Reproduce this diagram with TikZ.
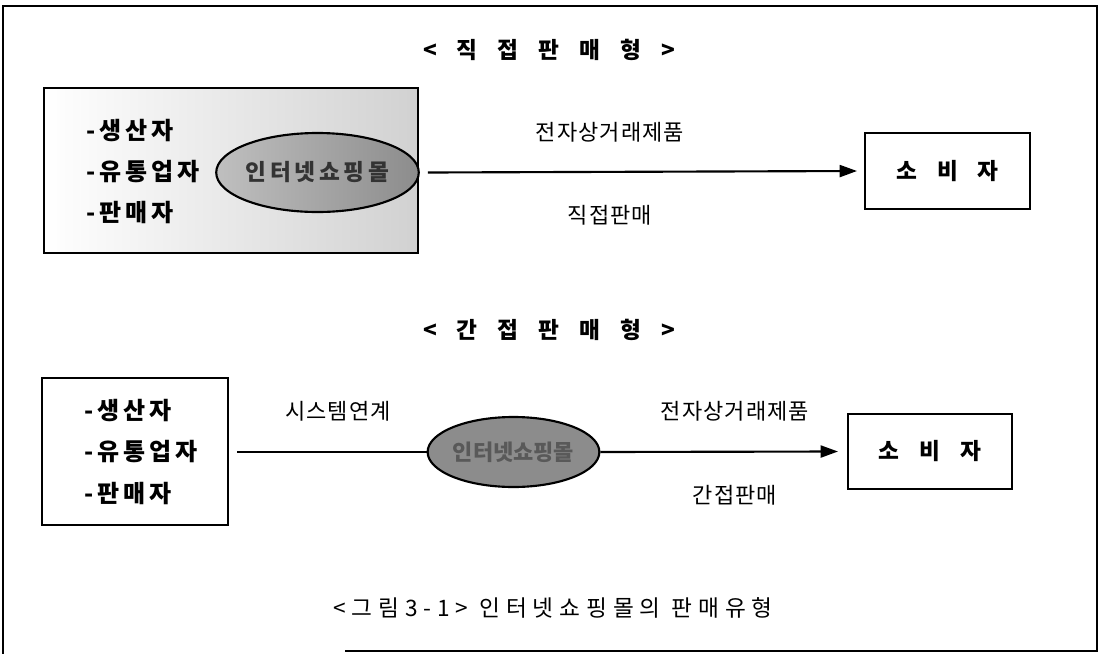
\documentclass[tikz,border=0pt]{standalone}
\usepackage{fontspec}
\newfontfamily\kr{Noto Sans CJK KR}
\newfontfamily\krls{Noto Sans CJK KR}[LetterSpace=16]
\newfontfamily\krcap{Noto Sans CJK KR}[LetterSpace=26]
\newfontfamily\krlab{Noto Sans CJK KR}[LetterSpace=5]
\usetikzlibrary{shapes.geometric,arrows.meta}
\newcommand{\gp}{\hspace{15pt}}
\begin{document}
\begin{tikzpicture}[x=0.75pt,y=-0.75pt,
  frame/.style={line width=1.2pt},
  boxline/.style={draw,line width=1.6pt},
  lbl/.style={font=\krlab\fontsize{16.5}{19}\selectfont,inner sep=0pt},
  blbl/.style={font=\krls\bfseries\fontsize{18}{20}\selectfont,inner sep=0pt},
  ttl/.style={font=\kr\bfseries\fontsize{17}{19}\selectfont,inner sep=0pt},
  conn/.style={line width=1.6pt},
  arr/.style={conn,-{Triangle[length=13pt,width=9pt]}}
]
\useasboundingbox (0,0) rectangle (1101,654);
% outer frame
\draw[frame] (345,651) -- (1097,651) -- (1097,6) -- (3,6) -- (3,654);

% ---------- direct sales ----------
\node[ttl] (t1) at (549,50) {<\gp 직\gp 접\gp 판\gp 매\gp 형\gp >};
\shade[left color=white,right color=black!18] (44,88) rectangle (418,253);
\node[boxline,minimum width=374*0.75pt,minimum height=165*0.75pt,inner sep=0pt] (b1) at (231,170.5) {};
\node[blbl,anchor=west] (p1) at (86,131) {-생산자};
\node[blbl,anchor=west] (d1) at (86,172) {-유통업자};
\node[blbl,anchor=west] (s1) at (86,213) {-판매자};
\node[ellipse,draw,line width=1.6pt,left color=black!25,right color=black!45,
      minimum width=199*0.75pt,minimum height=79*0.75pt,inner sep=0pt,
      font=\krls\bfseries\fontsize{17}{19}\selectfont,text=black!80] (e1) at (317.5,172.5) {인터넷쇼핑몰};
\node[boxline,minimum width=165*0.75pt,minimum height=76*0.75pt,inner sep=0pt,ttl] (c1) at (947.5,171) {소\gp 비\gp 자};
\draw[arr] (e1.east) ++(8,0) coordinate (a1) -- (c1.west -| 857,0) ;
\node[lbl] (l1) at (610,132) {전자상거래제품};
\node[lbl] (l2) at (610,215) {직접판매};

% ---------- indirect sales ----------
\node[ttl] (t2) at (549,330) {<\gp 간\gp 접\gp 판\gp 매\gp 형\gp >};
\node[boxline,minimum width=186*0.75pt,minimum height=147*0.75pt,inner sep=0pt] (b2) at (135,451.5) {};
\node[blbl,anchor=west] (p2) at (84,411) {-생산자};
\node[blbl,anchor=west] (d2) at (84,452) {-유통업자};
\node[blbl,anchor=west] (s2) at (84,494) {-판매자};
\node[ellipse,draw,line width=1.6pt,fill=black!45,
      minimum width=165*0.75pt,minimum height=70*0.75pt,inner sep=0pt,
      font=\kr\bfseries\fontsize{16.5}{18}\selectfont,text=black!65] (e2) at (513.5,452) {인터넷쇼핑몰};
\node[boxline,minimum width=164*0.75pt,minimum height=75*0.75pt,inner sep=0pt,ttl] (c2) at (930,451.5) {소\gp 비\gp 자};
\coordinate (s2a) at (237,452);
\draw[conn] (s2a) -- (e2.west);
\draw[arr] (e2.east) -- (c2.west -| 838,0);
\node[lbl] (l3) at (338,411) {시스템연계};
\node[lbl] (l4) at (735,411) {전자상거래제품};
\node[lbl] (l5) at (735,495) {간접판매};

% caption
\node[inner sep=0pt,font=\krcap\fontsize{17}{19}\selectfont] (cap) at (553,608) {<그림3-1> 인터넷쇼핑몰의 판매유형};
\end{tikzpicture}
\end{document}
